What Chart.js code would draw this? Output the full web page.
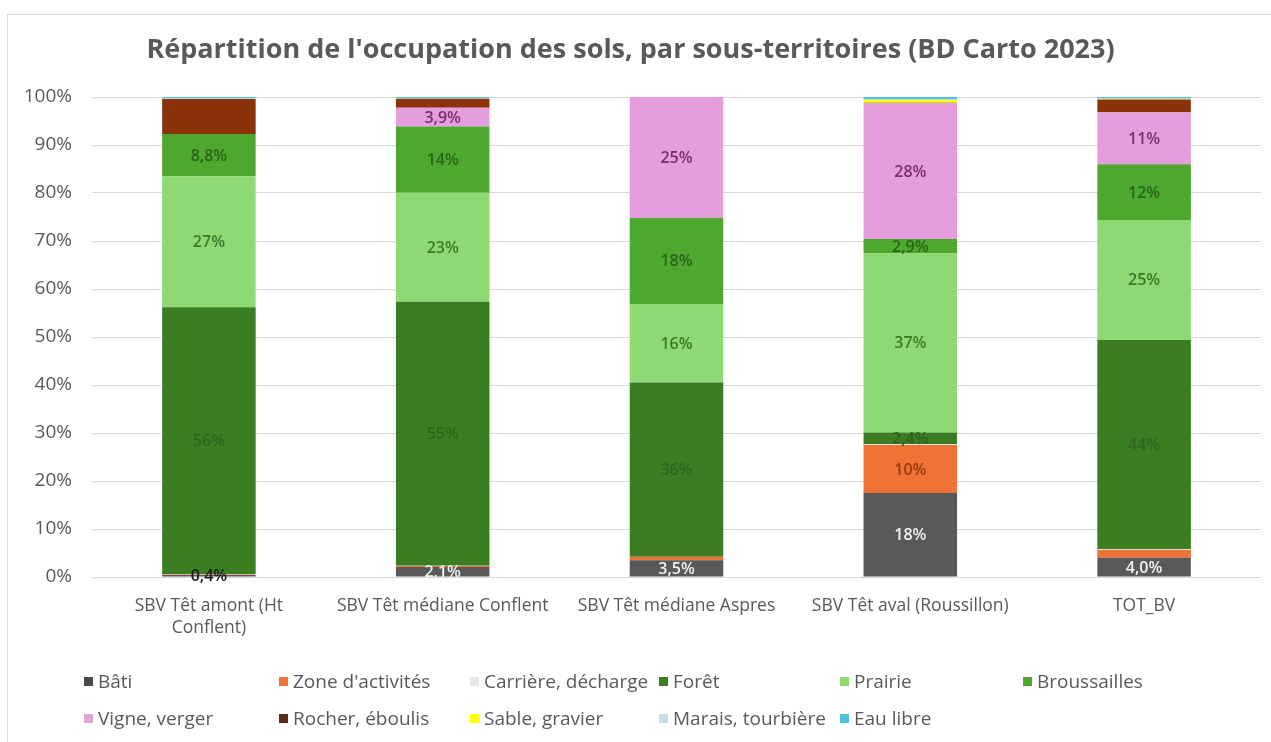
<!DOCTYPE html>
<html lang="fr">
<head>
<meta charset="utf-8">
<script src="https://cdn.jsdelivr.net/npm/chart.js@4.4.1/dist/chart.umd.min.js"></script>
<style>
  html, body { margin: 0; padding: 0; background: #fff; }
  body { width: 1271px; height: 742px; position: relative; overflow: hidden; font-family: "Open Sans", Roboto, "Liberation Sans", sans-serif; }
  #frame { position: absolute; left: 7px; top: 14px; width: 1270px; height: 740px; border: 1px solid #d9d9d9; box-sizing: border-box; }
  #c { position: absolute; left: 0; top: 0; }
  #legend { position: absolute; left: 0; top: 0; width: 1271px; height: 742px; pointer-events: none; }
  .li { position: absolute; display: flex; align-items: center; font-size: 19px; color: #595959; white-space: nowrap; transform: translateY(-50%); }
  .li i { display: inline-block; width: 9px; height: 9px; margin-right: 5px; }
</style>
</head>
<body>
<div id="frame"></div>
<canvas id="c" width="1271" height="650"></canvas>
<div id="legend"></div>
<script>
// ---- Data (percentages) ----
const chartTitle = "Répartition de l'occupation des sols, par sous-territoires (BD Carto 2023)";
const categories = [
  ["SBV Têt amont (Ht", "Conflent)"],
  "SBV Têt médiane Conflent",
  "SBV Têt médiane Aspres",
  "SBV Têt aval (Roussillon)",
  "TOT_BV"
];
const seriesNames = ["Bâti", "Zone d'activités", "Carrière, décharge", "Forêt", "Prairie", "Broussailles",
                     "Vigne, verger", "Rocher, éboulis", "Sable, gravier", "Marais, tourbière", "Eau libre"];
const bati          = [0.4, 2.1, 3.5, 17.5, 4.0];
const zoneActivites = [0.1, 0.2, 0.7, 10.0, 1.6];
const carriere      = [0.1, 0.05, 0.0, 0.2, 0.2];
const foret         = [55.6, 55.0, 36.3, 2.4, 43.6];
const prairie       = [27.3, 22.7, 16.4, 37.4, 25.0];
const broussailles  = [8.8, 13.8, 17.9, 2.9, 11.6];
const vigne         = [0.0, 3.9, 25.2, 28.3, 10.8];
const rocher        = [7.3, 1.9, 0.0, 0.1, 2.7];
const sable         = [0.0, 0.0, 0.0, 0.6, 0.1];
const marais        = [0.2, 0.1, 0.0, 0.2, 0.1];
const eauLibre      = [0.2, 0.25, 0.0, 0.4, 0.3];
const yTicks = [0, 10, 20, 30, 40, 50, 60, 70, 80, 90, 100];

// ---- Styles ----
const seriesValues = [bati, zoneActivites, carriere, foret, prairie, broussailles, vigne, rocher, sable, marais, eauLibre];
const colors = ["#595959", "#EE7334", "#E0E0E0", "#3B7D23", "#8ED973", "#4EA72E", "#E59EDD", "#8B3208", "#FFFF00", "#C4DDE6", "#4EC4DB"];
const legendColors = ["#4a4a4a", "#EE7334", "#E6E6E6", "#3B7D23", "#8ED973", "#4EA72E", "#D9A6D6", "#5B2A14", "#FFFF00", "#C4DDE6", "#4EC4DB"];
const labelColors = ["#f2f2f2", "#9A3A0C", null, "#2F6420", "#3A7A2A", "#2B6419", "#7A2C72", null, null, null, null];
const labelMin = [0.1, 5, null, 0.1, 0.1, 0.1, 0.1, null, null, null, null];
const FONT = "'Open Sans', Roboto, 'Liberation Sans', sans-serif";

function fmt(v) {
  if (v < 9.95) return v.toFixed(1).replace('.', ',') + '%';
  return Math.round(v) + '%';
}

const labelPlugin = {
  id: 'segLabels',
  afterDatasetsDraw(chart) {
    const ctx = chart.ctx;
    ctx.save();
    ctx.textAlign = 'center';
    ctx.textBaseline = 'middle';
    chart.data.datasets.forEach((ds, di) => {
      if (labelMin[di] === null) return;
      const meta = chart.getDatasetMeta(di);
      meta.data.forEach((el, i) => {
        const v = ds.data[i];
        if (!(v >= labelMin[di])) return;
        const y = (el.y + el.base) / 2;
        ctx.font = "600 16px " + FONT;
        ctx.fillStyle = (di === 0 && v < 1) ? '#1a1a1a' : labelColors[di];
        ctx.fillText(fmt(v), el.x, y + 1);
      });
    });
    ctx.restore();
  }
};

const datasets = seriesNames.map((name, i) => ({
  label: name,
  data: seriesValues[i],
  backgroundColor: colors[i],
  borderWidth: 0,
  barPercentage: 0.4,
  categoryPercentage: 1.0
}));

new Chart(document.getElementById('c'), {
  type: 'bar',
  data: { labels: categories, datasets },
  plugins: [labelPlugin],
  options: {
    responsive: false,
    devicePixelRatio: 1,
    animation: false,
    layout: { padding: { left: 0, right: 10, top: 0, bottom: 0 } },
    plugins: {
      legend: { display: false },
      tooltip: { enabled: false },
      title: {
        display: true,
        text: chartTitle,
        color: '#595959',
        font: { family: FONT, size: 27, weight: 'bold' },
        padding: { top: 34, bottom: 30.6 }
      }
    },
    scales: {
      x: {
        stacked: true,
        grid: { display: false, drawTicks: false },
        border: { display: false },
        ticks: { color: '#595959', font: { family: FONT, size: 17.5, lineHeight: 1.25 }, padding: 18, maxRotation: 0, autoSkip: false },
        afterFit(s) { s.height = 73; }
      },
      y: {
        stacked: true,
        min: 0, max: 100,
        afterBuildTicks(s) { s.ticks = yTicks.map(v => ({ value: v })); },
        ticks: { color: '#595959', font: { family: FONT, size: 19 }, padding: 20, callback: v => v + '%' },
        grid: { color: '#d9d9d9', drawTicks: false },
        border: { display: false },
        afterFit(s) { s.width = 92; }
      }
    }
  }
});

// ---- Legend (HTML, built from the series arrays) ----
const legend = document.getElementById('legend');
const colX = [84, 279, 470, 659, 840, 1023];
const rowY = [681, 718];
seriesNames.forEach((name, i) => {
  const d = document.createElement('div');
  d.className = 'li';
  d.style.left = colX[i % 6] + 'px';
  d.style.top = rowY[Math.floor(i / 6)] + 'px';
  const m = document.createElement('i');
  m.style.background = legendColors[i];
  d.appendChild(m);
  d.appendChild(document.createTextNode(name));
  legend.appendChild(d);
});
</script>
</body>
</html>
